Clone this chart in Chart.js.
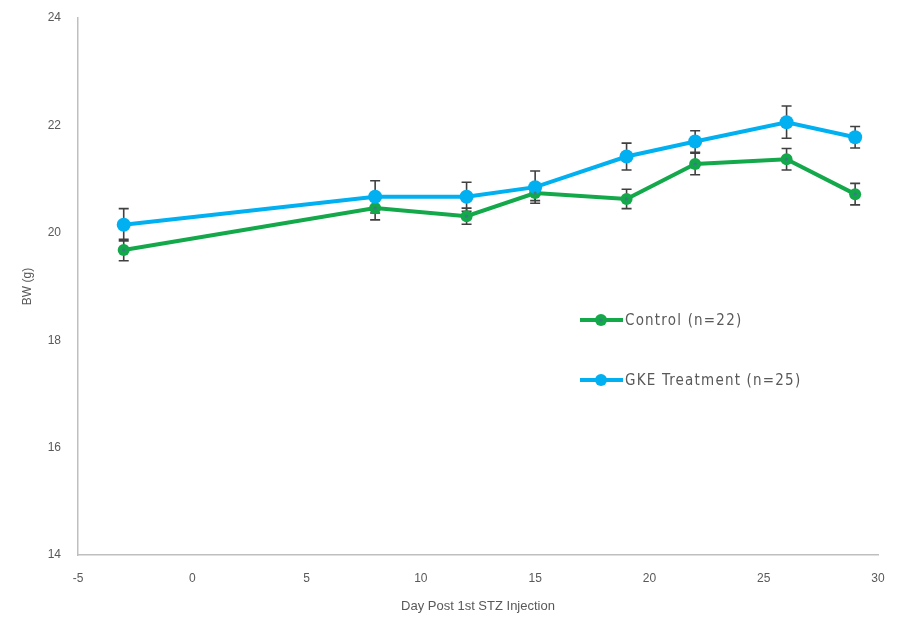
<!DOCTYPE html>
<html>
<head>
<meta charset="utf-8">
<script src="https://cdn.jsdelivr.net/npm/chart.js@4"></script>
<style>
  html, body { margin: 0; padding: 0; background: #ffffff; }
  #wrap { position: relative; width: 909px; height: 618px; }
</style>
</head>
<body>
<div id="wrap"><canvas id="c" width="909" height="618"></canvas></div>
<script>
// Days relative to the first STZ injection
const days = [-3, 8, 12, 15, 19, 22, 26, 29];

// Mean body weight (g) and error (SEM)
const controlLabel = 'Control (n=22)';
const controlBW = [19.68, 20.46, 20.31, 20.74, 20.63, 21.28, 21.37, 20.72];
const controlErr = [0.2, 0.22, 0.15, 0.14, 0.18, 0.2, 0.2, 0.2];

const gkeLabel = 'GKE Treatment (n=25)';
const gkeBW = [20.15, 20.67, 20.67, 20.85, 21.42, 21.70, 22.06, 21.78];
const gkeErr = [0.3, 0.3, 0.27, 0.3, 0.25, 0.2, 0.3, 0.2];

// Axis ticks
const xTicks = [-5, 0, 5, 10, 15, 20, 25, 30];
const yTicks = [14, 16, 18, 20, 22, 24];

const GREEN = '#13A84A';
const BLUE = '#00B0F0';
const TEXT = '#595959';
const AXIS = '#BFBFBF';
const DOT = '#3C7A8A';
const FONT = "'Liberation Sans Narrow', 'Liberation Sans', sans-serif";

const toPoints = (ys) => days.map((d, i) => ({ x: d, y: ys[i] }));

// Vertical error bars with caps, drawn beneath the markers
const errorBars = {
  id: 'errorBars',
  beforeDatasetsDraw(chart) {
    const ctx = chart.ctx;
    const xs = chart.scales.x, ys = chart.scales.y;
    ctx.save();
    ctx.strokeStyle = '#404040';
    ctx.lineWidth = 1.6;
    chart.data.datasets.forEach((ds) => {
      ds.data.forEach((p, i) => {
        const e = ds.errors[i];
        const px = xs.getPixelForValue(p.x);
        const top = ys.getPixelForValue(p.y + e);
        const bot = ys.getPixelForValue(p.y - e);
        ctx.beginPath();
        ctx.moveTo(px, top); ctx.lineTo(px, bot);
        ctx.moveTo(px - 5, top); ctx.lineTo(px + 5, top);
        ctx.moveTo(px - 5, bot); ctx.lineTo(px + 5, bot);
        ctx.stroke();
      });
    });
    ctx.restore();
  }
};

// Small dark centre dot on the control markers
const markerDots = {
  id: 'markerDots',
  afterDatasetsDraw(chart) {
    const ctx = chart.ctx;
    const meta = chart.getDatasetMeta(0);
    ctx.save();
    ctx.fillStyle = DOT;
    meta.data.forEach((pt) => {
      ctx.beginPath();
      ctx.arc(pt.x, pt.y, 1.6, 0, Math.PI * 2);
      ctx.fill();
    });
    ctx.restore();
  }
};

// Legend placed inside the plot area
const inlineLegend = {
  id: 'inlineLegend',
  afterDraw(chart) {
    const ctx = chart.ctx;
    const entries = [
      { label: controlLabel, color: GREEN, y: 320, dot: true },
      { label: gkeLabel, color: BLUE, y: 380, dot: false }
    ];
    ctx.save();
    entries.forEach((e) => {
      ctx.strokeStyle = e.color;
      ctx.lineWidth = 4;
      ctx.beginPath();
      ctx.moveTo(580, e.y); ctx.lineTo(623, e.y);
      ctx.stroke();
      ctx.fillStyle = e.color;
      ctx.beginPath();
      ctx.arc(601, e.y, 6, 0, Math.PI * 2);
      ctx.fill();
      if (e.dot) {
        ctx.fillStyle = DOT;
        ctx.beginPath();
        ctx.arc(601, e.y, 1.6, 0, Math.PI * 2);
        ctx.fill();
      }
      ctx.fillStyle = TEXT;
      ctx.font = "15px 'DejaVu Sans Condensed', 'DejaVu Sans', sans-serif";
      ctx.letterSpacing = '1.2px';
      ctx.textBaseline = 'middle';
      ctx.textAlign = 'left';
      ctx.fillText(e.label, 625, e.y + 1);
    });
    ctx.restore();
  }
};

new Chart(document.getElementById('c'), {
  type: 'line',
  data: {
    datasets: [
      {
        label: controlLabel,
        data: toPoints(controlBW),
        errors: controlErr,
        borderColor: GREEN,
        backgroundColor: GREEN,
        borderWidth: 4,
        pointRadius: 6,
        pointBorderWidth: 0,
        pointBackgroundColor: GREEN,
        tension: 0,
        order: 1
      },
      {
        label: gkeLabel,
        data: toPoints(gkeBW),
        errors: gkeErr,
        borderColor: BLUE,
        backgroundColor: BLUE,
        borderWidth: 4,
        pointRadius: 7,
        pointBorderWidth: 0,
        pointBackgroundColor: BLUE,
        tension: 0,
        order: 0
      }
    ]
  },
  options: {
    responsive: false,
    animation: false,
    devicePixelRatio: 1,
    layout: { padding: { top: 18, right: 31, left: 20, bottom: 0 } },
    plugins: { legend: { display: false }, tooltip: { enabled: false } },
    scales: {
      x: {
        type: 'linear',
        min: -5, max: 30,
        afterBuildTicks: (s) => { s.ticks = xTicks.map(v => ({ value: v })); },
        afterFit: (s) => { s.height = 63; },
        grid: { display: false, drawTicks: false },
        border: { display: true, color: AXIS, width: 1.5 },
        ticks: { color: TEXT, padding: 16, maxRotation: 0, font: { family: FONT, size: 12 } },
        title: { display: true, text: 'Day Post 1st STZ Injection', color: TEXT, padding: { top: 4 }, font: { family: FONT, size: 13 } }
      },
      y: {
        min: 14, max: 24,
        afterBuildTicks: (s) => { s.ticks = yTicks.map(v => ({ value: v })); },
        afterFit: (s) => { s.width = 58; s.paddingTop = 0; s.paddingBottom = 0; },
        grid: { display: false, drawTicks: false },
        border: { display: true, color: AXIS, width: 1.5 },
        ticks: { color: TEXT, padding: 17, font: { family: FONT, size: 12 } },
        title: { display: true, text: 'BW (g)', color: TEXT, padding: { top: 0, bottom: 0 }, font: { family: FONT, size: 12 } }
      }
    }
  },
  plugins: [errorBars, markerDots, inlineLegend]
});
</script>
</body>
</html>
